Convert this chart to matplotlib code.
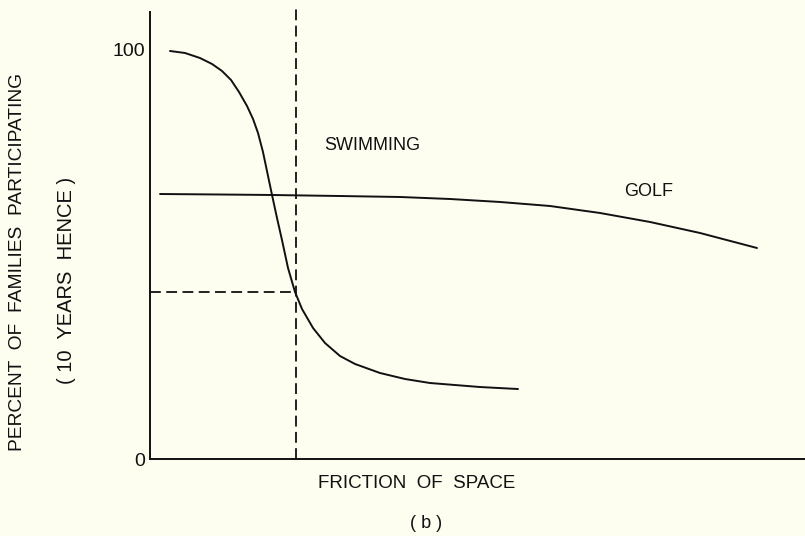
import matplotlib
matplotlib.use("Agg")
import matplotlib.pyplot as plt

# Swimming curve (friction of space, percent participating)
swim_x = [3.05, 5.34, 7.63, 9.47, 10.99, 12.37, 13.59, 14.81, 15.73, 16.49, 17.25, 18.02,
          18.63, 19.39, 20.15, 21.07, 22.14, 23.21, 24.89, 26.72, 29.01, 31.30, 35.11,
          38.93, 42.75, 46.56, 50.38, 56.18]
swim_y = [99.76, 99.27, 98.04, 96.58, 94.87, 92.67, 89.73, 86.31, 83.13, 79.71, 75.06, 69.19,
          64.55, 58.92, 53.55, 46.70, 40.83, 36.67, 32.03, 28.36, 25.18, 23.23, 21.03,
          19.56, 18.58, 18.09, 17.60, 17.11]

# Golf curve
golf_x = [1.53, 10.69, 18.63, 29.01, 38.17, 45.80, 53.44, 61.07, 68.70, 76.34, 83.97, 92.67]
golf_y = [64.79, 64.67, 64.55, 64.30, 64.06, 63.57, 62.84, 61.86, 60.15, 57.95, 55.26, 51.59]

# Reference dashed lines
ref_x = 22.29
ref_y = 40.83

ytick_vals = [0, 100]
ytick_labels = ["0", "100"]

BG = "#fdfdf0"
INK = "#111111"
FONT = ["Liberation Sans", "DejaVu Sans"]

fig = plt.figure(figsize=(8.05, 5.36), dpi=100, facecolor=BG)
ax = fig.add_axes([150/805, 77/536, 655/805, 447/536])
ax.set_facecolor(BG)
ax.set_xlim(0, 100)
ax.set_ylim(0, 447/4.09)

ax.plot(swim_x, swim_y, color=INK, lw=1.4, solid_capstyle="round", solid_joinstyle="round")
ax.plot(golf_x, golf_y, color=INK, lw=1.4, solid_capstyle="round", solid_joinstyle="round")

ax.plot([ref_x, ref_x], [0, 111], color=INK, lw=1.3, linestyle=(0, (6, 3)), clip_on=False)
ax.plot([0, ref_x], [ref_y, ref_y], color=INK, lw=1.3, linestyle=(0, (6, 3)))

for s in ["top", "right"]:
    ax.spines[s].set_visible(False)
for s in ["left", "bottom"]:
    ax.spines[s].set_linewidth(1.4)
    ax.spines[s].set_color(INK)

ax.set_xticks([])
ax.set_yticks(ytick_vals)
ax.set_yticklabels(ytick_labels, family=FONT, fontsize=14, color=INK)
ax.tick_params(axis="y", length=0, pad=3.6)

fig.text(372/805, 1-146/536, "SWIMMING", ha="center", va="center", family=FONT,
         fontsize=13, color=INK)
fig.text(649/805, 1-192/536, "GOLF", ha="center", va="center", family=FONT,
         fontsize=13, color=INK)
fig.text(417/805, 1-483/536, "FRICTION  OF  SPACE", ha="center", va="center", family=FONT,
         fontsize=13.5, color=INK)
fig.text(426/805, 1-523/536, "( b )", ha="center", va="center", family=FONT,
         fontsize=13, color=INK)
fig.text(18/805, 1-262/536, "PERCENT  OF  FAMILIES  PARTICIPATING", ha="center", va="center",
         rotation=90, family=FONT, fontsize=13.8, color=INK)
fig.text(67/805, 1-280/536, "( 10  YEARS  HENCE )", ha="center", va="center",
         rotation=90, family=FONT, fontsize=14.5, color=INK)

fig.savefig("out.png", dpi=100, facecolor=BG)
